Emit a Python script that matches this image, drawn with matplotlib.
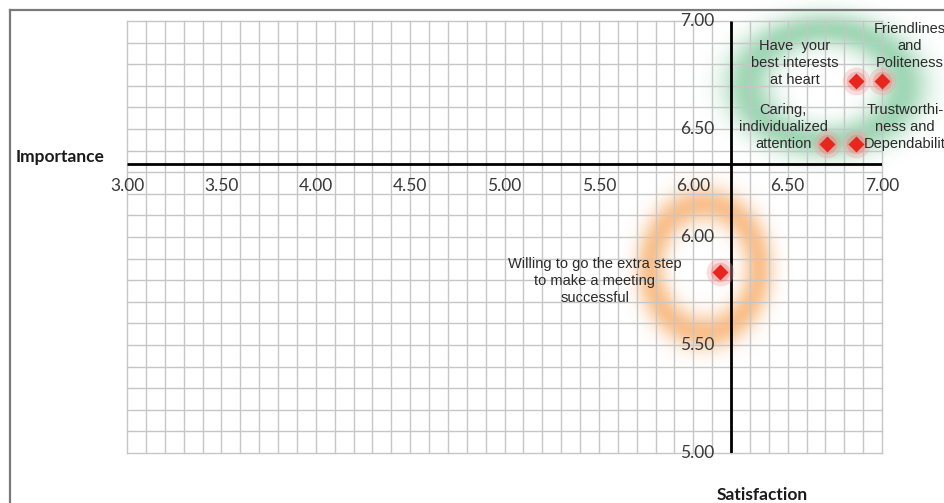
import numpy as np
import matplotlib
matplotlib.use("Agg")
import matplotlib.pyplot as plt
from matplotlib.lines import Line2D

# ---- data ----
labels = ["Have  your\nbest interests\nat heart",
          "Friendlines\nand\nPoliteness",
          "Caring,\nindividualized\nattention",
          "Trustworthi-\nness and\nDependabilit",
          "Willing to go the extra step\nto make a meeting\nsuccessful"]
satisfaction = [6.86, 7.00, 6.71, 6.86, 6.14]
importance = [6.72, 6.72, 6.43, 6.43, 5.84]
x_ticks = [3.00, 3.50, 4.00, 4.50, 5.00, 5.50, 6.00, 6.50, 7.00]
y_ticks = [5.00, 5.50, 6.00, 6.50, 7.00]
x_cross = 6.2
y_cross = 6.34

# ---- layout ----
label_pos = [(6.539, 6.806), (7.148, 6.885), (6.476, 6.509), (7.122, 6.509), (5.479, 5.796)]
W, H = 945, 503
fig = plt.figure(figsize=(W / 100, H / 100), dpi=100)
ax = fig.add_axes([127 / W, (H - 453) / H, 755 / W, 432 / H])
ax.set_xlim(3, 7)
ax.set_ylim(5, 7)
for s in ax.spines.values():
    s.set_visible(False)
ax.set_xticks(np.arange(3, 7.0001, 0.1))
ax.set_yticks(np.arange(5, 7.0001, 0.1))
ax.tick_params(length=0, labelbottom=False, labelleft=False)
ax.grid(True, color="#c6c6c6", lw=1.0, zorder=0)
for gl in ax.get_xgridlines() + ax.get_ygridlines():
    gl.set_clip_on(False)

# glow rings
sx, sy = 755 / 4.0, 432 / 2.0
ex = [2.9, 7.35, 4.9, 7.1]
gx = np.linspace(ex[0], ex[1], 900)
gy = np.linspace(ex[3], ex[2], 450)
X, Y = np.meshgrid(gx, gy)
img = np.zeros(X.shape + (4,))

def add_ring(cx, cy, rx, ry, sig, rgb, amax):
    dx = (X - cx) * sx
    dy = (Y - cy) * sy
    r = np.sqrt((dx / rx) ** 2 + (dy / ry) ** 2)
    d = (r - 1) * np.sqrt(rx * ry)
    a = amax * np.exp(-0.5 * (d / sig) ** 2)
    old = img[..., 3]
    na = a + old * (1 - a)
    for i in range(3):
        img[..., i] = np.where(na > 0, (rgb[i] * a + img[..., i] * old * (1 - a)) / np.maximum(na, 1e-9), 0)
    img[..., 3] = na

add_ring(6.703, 6.704, 78, 56, 15, (0.38, 0.74, 0.52), 0.6)
add_ring(6.062, 5.856, 54, 64, 12, (0.97, 0.66, 0.38), 0.72)
ax.imshow(img, extent=ex, aspect="auto", zorder=1, clip_on=False, interpolation="bilinear")
ax.set_xlim(3, 7)
ax.set_ylim(5, 7)

# axis lines
ax.plot([3, 7], [y_cross, y_cross], color="black", lw=2.0, zorder=3, solid_capstyle="butt")
ax.plot([x_cross, x_cross], [5, 7], color="black", lw=2.0, zorder=3, solid_capstyle="butt")

# tick labels
tick_font = dict(family=["Lato", "DejaVu Sans"], fontsize=12.5, color="#383838")
for v in x_ticks:
    ax.annotate(f"{v:.2f}", (v, y_cross), xytext=(0, -16.5), textcoords="offset points",
                ha="center", va="center", zorder=4, annotation_clip=False, **tick_font)
for v in y_ticks:
    ax.annotate(f"{v:.2f}", (x_cross, v), xytext=(-12, 0), textcoords="offset points",
                ha="right", va="center", zorder=4, annotation_clip=False, **tick_font)

# markers with glow
ax.plot(satisfaction, importance, "o", ms=20, color="#f4a0a0", alpha=0.35, mec="none", zorder=4, clip_on=False)
ax.plot(satisfaction, importance, "o", ms=14, color="#f07070", alpha=0.35, mec="none", zorder=4, clip_on=False)
ax.plot(satisfaction, importance, "D", ms=8.5, color="#e8261e", mec="none", zorder=5, clip_on=False)

for lab, (tx, ty) in zip(labels, label_pos):
    ax.text(tx, ty, lab, ha="center", va="center", fontsize=10.5, linespacing=1.3,
            family=["Liberation Sans", "DejaVu Sans"], color="#2a2a2a", zorder=6, clip_on=False)

# axis titles
fig.text(16 / W, 1 - 157 / H, "Importance", ha="left", va="center", fontsize=12.5,
         fontweight="bold", family=["Lato", "DejaVu Sans"], color="#1a1a1a")
fig.text(762 / W, 1 - 495 / H, "Satisfaction", ha="center", va="center", fontsize=12.5,
         fontweight="bold", family=["Lato", "DejaVu Sans"], color="#1a1a1a")

# outer frame
fig.add_artist(Line2D([10 / W, 1], [1 - 10 / H, 1 - 10 / H], color="#7a7a7a", lw=1.6, transform=fig.transFigure))
fig.add_artist(Line2D([10 / W, 10 / W], [1 - 10 / H, 0], color="#7a7a7a", lw=1.6, transform=fig.transFigure))

fig.savefig("out.png", dpi=100)
